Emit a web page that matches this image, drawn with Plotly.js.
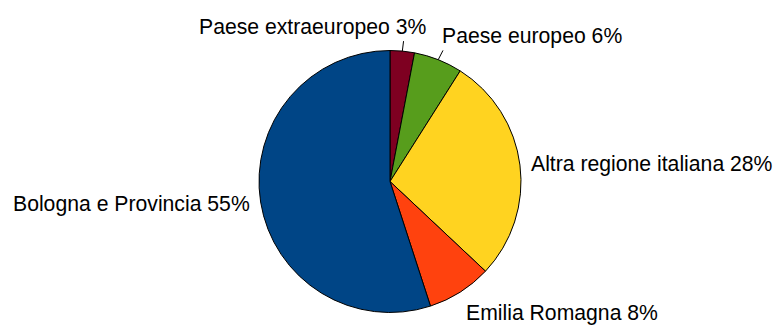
<!DOCTYPE html>
<html>
<head>
<meta charset="utf-8">
<script src="https://cdn.plot.ly/plotly-3.0.1.min.js"></script>
<style>html,body{margin:0;padding:0;background:#fff;}#chart{width:781px;height:329px;}</style>
</head>
<body>
<div id="chart"></div>
<script>
const categories = ["Paese extraeuropeo", "Paese europeo", "Altra regione italiana", "Emilia Romagna", "Bologna e Provincia"];
const values = [3, 6, 28, 8, 55];
const colors = ["#7E0021", "#579D1C", "#FFD320", "#FF420E", "#004586"];

const W = 781, H = 329;
const cx = 390, cy = 181.5, R = 131;
const labelR = 142;
const fontSize = 21.2;

const total = values.reduce((a, b) => a + b, 0);
const annotations = [];
const shapes = [];
let cum = 0;
values.forEach((v, i) => {
  const mid = (cum + v / 2) / total * 2 * Math.PI;
  cum += v;
  const s = Math.sin(mid), c = Math.cos(mid);
  let ax = cx + labelR * s, ay = cy - labelR * c;
  let xanchor = s > 0.3 ? "left" : (s < -0.3 ? "right" : "center");
  let yanchor = c > 0.3 ? "bottom" : (c < -0.3 ? "top" : "middle");
  if (xanchor === "center" && c > 0) { xanchor = "right"; ax += 23; }
  if (yanchor === "bottom") ay -= 1;
  annotations.push({
    x: ax / W, y: 1 - ay / H, xref: "paper", yref: "paper",
    xanchor: xanchor, yanchor: yanchor, showarrow: false,
    borderpad: 0, borderwidth: 0,
    text: categories[i] + " " + v + "%",
    font: {family: "Liberation Sans, Arial, sans-serif", size: fontSize, color: "#000"}
  });
  if (v / total <= 0.06) {
    shapes.push({
      type: "line", xref: "paper", yref: "paper",
      x0: (cx + R * s) / W, y0: 1 - (cy - R * c) / H,
      x1: (cx + (labelR + 2) * s) / W, y1: 1 - (cy - (labelR - 1) * c) / H,
      line: {color: "#000", width: 1}
    });
  }
});

const trace = {
  type: "pie",
  labels: categories,
  values: values,
  sort: false,
  direction: "clockwise",
  rotation: 0,
  textinfo: "none",
  hoverinfo: "label+percent",
  marker: {colors: colors, line: {color: "#000", width: 1}},
  domain: {x: [(cx - R) / W, (cx + R) / W], y: [1 - (cy + R) / H, 1 - (cy - R) / H]}
};

Plotly.newPlot("chart", [trace], {
  width: W, height: H,
  margin: {l: 0, r: 0, t: 0, b: 0},
  showlegend: false,
  paper_bgcolor: "#fff",
  annotations: annotations,
  shapes: shapes
}, {displayModeBar: false, staticPlot: true});
</script>
</body>
</html>
